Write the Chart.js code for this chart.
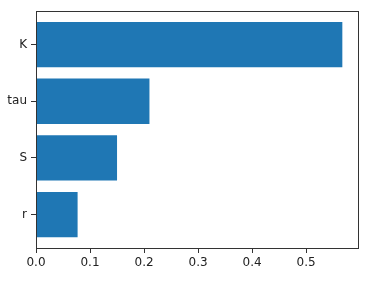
<!doctype html>
<html lang="en">
<head>
<meta charset="utf-8">
<title>Feature importance</title>
<style>
  html,body{margin:0;padding:0;background:#fff}
  canvas{display:block}
</style>
</head>
<body>
<canvas id="chart" width="371" height="285"></canvas>
<script src="https://cdn.jsdelivr.net/npm/chart.js@4.4.1/dist/chart.umd.min.js"></script>
<script>
const categories = ['K', 'tau', 'S', 'r'];
const values = [0.567, 0.21, 0.15, 0.077];
const xTicks = [0.0, 0.1, 0.2, 0.3, 0.4, 0.5];

(function(){
  const font = { family: 'DejaVu Sans', size: 12 };
  const axisColor = '#333';

  // matplotlib-style box around the plot area
  const frame = {
    id: 'frame',
    afterDraw(chart){
      const a = chart.chartArea, c = chart.ctx;
      c.save();
      c.strokeStyle = axisColor;
      c.lineWidth = 1;
      c.strokeRect(Math.round(a.left) + 0.5, Math.round(a.top) + 0.5, Math.round(a.right - a.left), Math.round(a.bottom - a.top));
      c.restore();
    }
  };

  new Chart(document.getElementById('chart').getContext('2d'), {
    type: 'bar',
    data: {
      datasets: [{
        data: values.map((v, i) => ({ x: v, y: i })),
        backgroundColor: '#1f77b4',
        borderWidth: 0,
        barPercentage: 0.8,
        categoryPercentage: 1
      }]
    },
    options: {
      indexAxis: 'y',
      responsive: false,
      animation: false,
      layout: { padding: { left: 0, top: 8, right: 13, bottom: 0 } },
      plugins: { legend: { display: false }, tooltip: { enabled: false } },
      scales: {
        x: {
          type: 'linear',
          min: 0,
          max: 0.596,
          afterBuildTicks: s => { s.ticks = xTicks.map(v => ({ value: v })); },
          afterFit: s => { s.height = 37; },
          grid: { drawOnChartArea: false, tickLength: 5, color: axisColor },
          border: { display: true, color: axisColor },
          ticks: { color: '#222', font, padding: 3, maxRotation: 0, callback: v => v.toFixed(1) }
        },
        y: {
          type: 'linear',
          reverse: true,
          offset: false,
          min: -0.59,
          max: 3.59,
          afterBuildTicks: s => { s.ticks = categories.map((c, i) => ({ value: i })); },
          afterFit: s => { s.width = 36; },
          grid: { offset: false, drawOnChartArea: false, tickLength: 5, color: axisColor },
          border: { display: true, color: axisColor },
          ticks: { color: '#222', font, padding: 4, callback: v => categories[v] }
        }
      }
    },
    plugins: [frame]
  });
})();
</script>
</body>
</html>
